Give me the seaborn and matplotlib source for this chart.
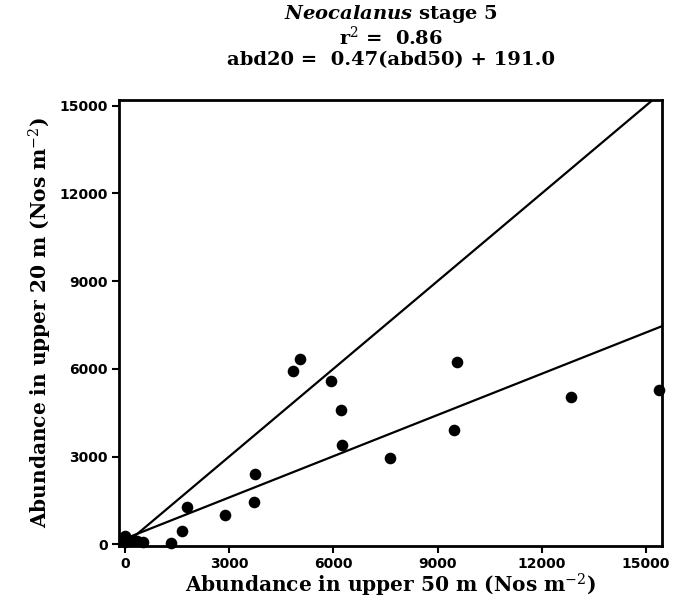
import matplotlib
matplotlib.use("Agg")
import matplotlib.pyplot as plt
import numpy as np
import pandas as pd
import seaborn as sns

# Abundance of Neocalanus stage 5 (Nos m^-2) integrated over two depth ranges
abd50 = [0, 0, 180, 350, 520, 1330, 1630, 1780, 2870, 3700, 3750,
         4830, 5040, 5930, 6210, 6240, 7620, 9470, 9570, 12830, 15380]
abd20 = [280, 60, 120, 100, 90, 40, 460, 1280, 1000, 1430, 2390,
         5940, 6330, 5580, 4590, 3410, 2960, 3920, 6230, 5050, 5270]

# Regression fit and reference 1:1 line
slope, intercept = 0.47, 191.0
r2 = 0.86
line_x = [0, 16000]

ticks = [0, 3000, 6000, 9000, 12000, 15000]

sns.set_theme(style="ticks")
plt.rcParams["font.family"] = ["DejaVu Serif"]
plt.rcParams["mathtext.fontset"] = "dejavuserif"
plt.rcParams["text.color"] = "black"
plt.rcParams["axes.labelcolor"] = "black"
plt.rcParams["xtick.color"] = "black"
plt.rcParams["ytick.color"] = "black"

df = pd.DataFrame({"abd50": abd50, "abd20": abd20})
lines = pd.DataFrame({
    "x": line_x * 2,
    "y": line_x + [slope * v + intercept for v in line_x],
    "kind": ["1:1"] * 2 + ["fit"] * 2,
})

fig = plt.figure(figsize=(6.73, 6.05), dpi=100)
ax = fig.add_axes([0.177, 0.098, 0.807, 0.737])

sns.lineplot(data=lines, x="x", y="y", units="kind", estimator=None,
             color="black", linewidth=1.6, ax=ax, legend=False)
sns.scatterplot(data=df, x="abd50", y="abd20", color="black", s=70,
                edgecolor="black", linewidth=0, ax=ax, zorder=3, clip_on=False)

ax.set_xlim(-170, 15470)
ax.set_ylim(-50, 15200)
ax.set_xticks(ticks)
ax.set_yticks(ticks)
ax.set_xticklabels([str(t) for t in ticks], fontfamily="DejaVu Sans",
                   fontweight="bold", fontsize=10, color="black")
ax.set_yticklabels([str(t) for t in ticks], fontfamily="DejaVu Sans",
                   fontweight="bold", fontsize=10, color="black")
ax.tick_params(direction="out", length=5, width=1.5, color="black", pad=3)
for sp in ax.spines.values():
    sp.set_linewidth(2)
    sp.set_color("black")

ax.set_xlabel(r"Abundance in upper 50 m (Nos m$^{-2}$)", fontsize=14.5,
              fontweight="bold", labelpad=1)
ax.set_ylabel(r"Abundance in upper 20 m (Nos m$^{-2}$)", fontsize=14.5,
              fontweight="bold", labelpad=4)

# Three-line heading centred over the plotting area
cx = 0.177 + 0.807 / 2
fig.text(cx, 0.977, r"$\mathbfit{Neocalanus}$ stage 5", ha="center", va="center",
         fontsize=14, fontweight="bold")
fig.text(cx, 0.939, r"r$^{2}$ =  " + f"{r2:.2f}", ha="center", va="center",
         fontsize=14, fontweight="bold")
fig.text(cx, 0.901, f"abd20 =  {slope:.2f}(abd50) + {intercept:.1f}",
         ha="center", va="center", fontsize=14, fontweight="bold")

fig.savefig("out.png", dpi=100)
